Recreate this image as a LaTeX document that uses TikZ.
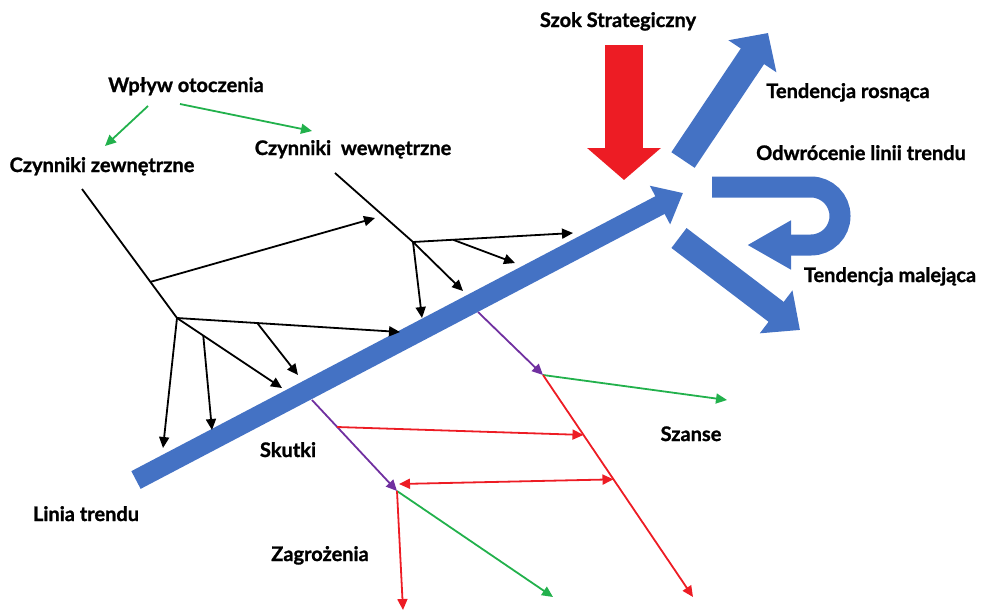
\documentclass[tikz,border=0pt]{standalone}
\usepackage{fontspec}
\setmainfont{Lato}[BoldFeatures={FakeBold=1.2}]
\usetikzlibrary{arrows.meta,calc}
\definecolor{trendblue}{HTML}{4472C4}
\definecolor{shockred}{HTML}{ED1C24}
\definecolor{okgreen}{HTML}{22B14C}
\definecolor{linkpurple}{HTML}{7030A0}
\begin{document}
\begin{tikzpicture}[x=1pt, y=-1pt,
    lbl/.style={font=\bfseries\fontsize{20}{22}\selectfont, text height=14pt, text depth=4pt, inner sep=0pt},
    blk/.style={line width=1.8pt, -{Triangle[length=11pt,width=10pt]}},
    grn/.style={blk, okgreen},
    rd/.style={blk, shockred},
    prp/.style={blk, linkpurple},
    bigarrow/.style={trendblue, line width=#1}]
    \useasboundingbox (0,0) rectangle (981,614);

    % Labels
    \node[lbl] (szok) at (618,22) {Szok Strategiczny};
    \node[lbl] (rosn) at (848,93) {Tendencja rosnąca};
    \node[lbl] (odwr) at (861,155) {Odwrócenie linii trendu};
    \node[lbl] (mal) at (890,277) {Tendencja malejąca};
    \node[lbl] (wplyw) at (186,87) {Wpływ otoczenia};
    \node[lbl] (zew) at (102,167) {Czynniki zewnętrzne};
    \node[lbl] (wew) at (353,150) {Czynniki\ \ wewnętrzne};
    \node[lbl] (szanse) at (691,436) {Szanse};
    \node[lbl] (skutki) at (288,452) {Skutki};
    \node[lbl] (linia) at (86,516) {Linia trendu};
    \node[lbl] (zagr) at (320,556) {Zagrożenia};

    % Trend line and the shock
    \draw[bigarrow=20, -{Triangle[length=26pt,width=42pt]}] (136,480) -- (683,193);
    \draw[shockred, line width=38, -{Triangle[length=32pt,width=72pt]}] (624,45) -- (624,180);

    % Three outcomes
    \draw[bigarrow=28, -{Triangle[length=28pt,width=56pt]}] (683,160) -- (768,33);
    \draw[bigarrow=21, -{Triangle[length=44pt,width=46pt]}] (712,187) -- (811,187)
        arc[start angle=-90, end angle=90, radius=29] -- (747,245);
    \draw[bigarrow=25, -{Triangle[length=30pt,width=52pt]}] (679,238) -- (800,330);

    % Environment
    \coordinate (g1a) at (148,106);
    \coordinate (g1b) at (105,146);
    \coordinate (g2a) at (180,104);
    \coordinate (g2b) at (312,131);
    \draw[grn] (g1a) -- (g1b);
    \draw[grn] (g2a) -- (g2b);

    % External factors
    \coordinate (z0) at (82,189);
    \coordinate (J1) at (177,318);
    \coordinate (zb) at ($(z0)!0.72!(J1)$);
    \coordinate (a1) at (375,218);
    \coordinate (t1) at (400,332);
    \coordinate (t1b) at (298,375);
    \coordinate (t2) at (163,448);
    \coordinate (t3) at (282,388);
    \coordinate (t3b) at (212,430);
    \coordinate (b1) at ($(J1)!0.36!(t1)$);
    \coordinate (b3) at ($(J1)!0.25!(t3)$);
    \draw[line width=1.8pt] (z0) -- (J1);
    \draw[blk] (zb) -- (a1);
    \foreach \t in {t1, t2, t3} {
        \draw[blk] (J1) -- (\t);
    }
    \draw[blk] (b1) -- (t1b);
    \draw[blk] (b3) -- (t3b);

    % Internal factors
    \coordinate (w0) at (335,173);
    \coordinate (J2) at (413,242);
    \coordinate (u1) at (573,233);
    \coordinate (u1b) at (515,263);
    \coordinate (u2) at (463,291);
    \coordinate (u3) at (422,318);
    \coordinate (bu) at ($(J2)!0.25!(u1)$);
    \draw[line width=1.8pt] (w0) -- (J2);
    \foreach \u in {u1, u2, u3} {
        \draw[blk] (J2) -- (\u);
    }
    \draw[blk] (bu) -- (u1b);

    % Effects: chances and threats
    \coordinate (p1a) at (478,312);
    \coordinate (p1b) at (543,375);
    \coordinate (s1) at (727,400);
    \coordinate (r1) at (693,597);
    \coordinate (p2a) at (312,400);
    \coordinate (p2b) at (397,491);
    \coordinate (s2) at (553,597);
    \coordinate (r2) at (403,610);
    \coordinate (h1a) at (337,427);
    \coordinate (h1b) at ($(p1b)!0.27!(r1)$);
    \coordinate (h2a) at ($(p1b)!0.47!(r1)$);
    \coordinate (h2b) at (399,484);
    \draw[prp] (p1a) -- (p1b);
    \draw[prp] (p2a) -- (p2b);
    \draw[grn] (p1b) -- (s1);
    \draw[grn] (p2b) -- (s2);
    \draw[rd] (p1b) -- (r1);
    \draw[rd] (p2b) -- (r2);
    \draw[rd] (h1a) -- (h1b);
    \draw[rd, {Triangle[length=11pt,width=10pt]}-{Triangle[length=11pt,width=10pt]}] (h2a) -- (h2b);
\end{tikzpicture}
\end{document}
